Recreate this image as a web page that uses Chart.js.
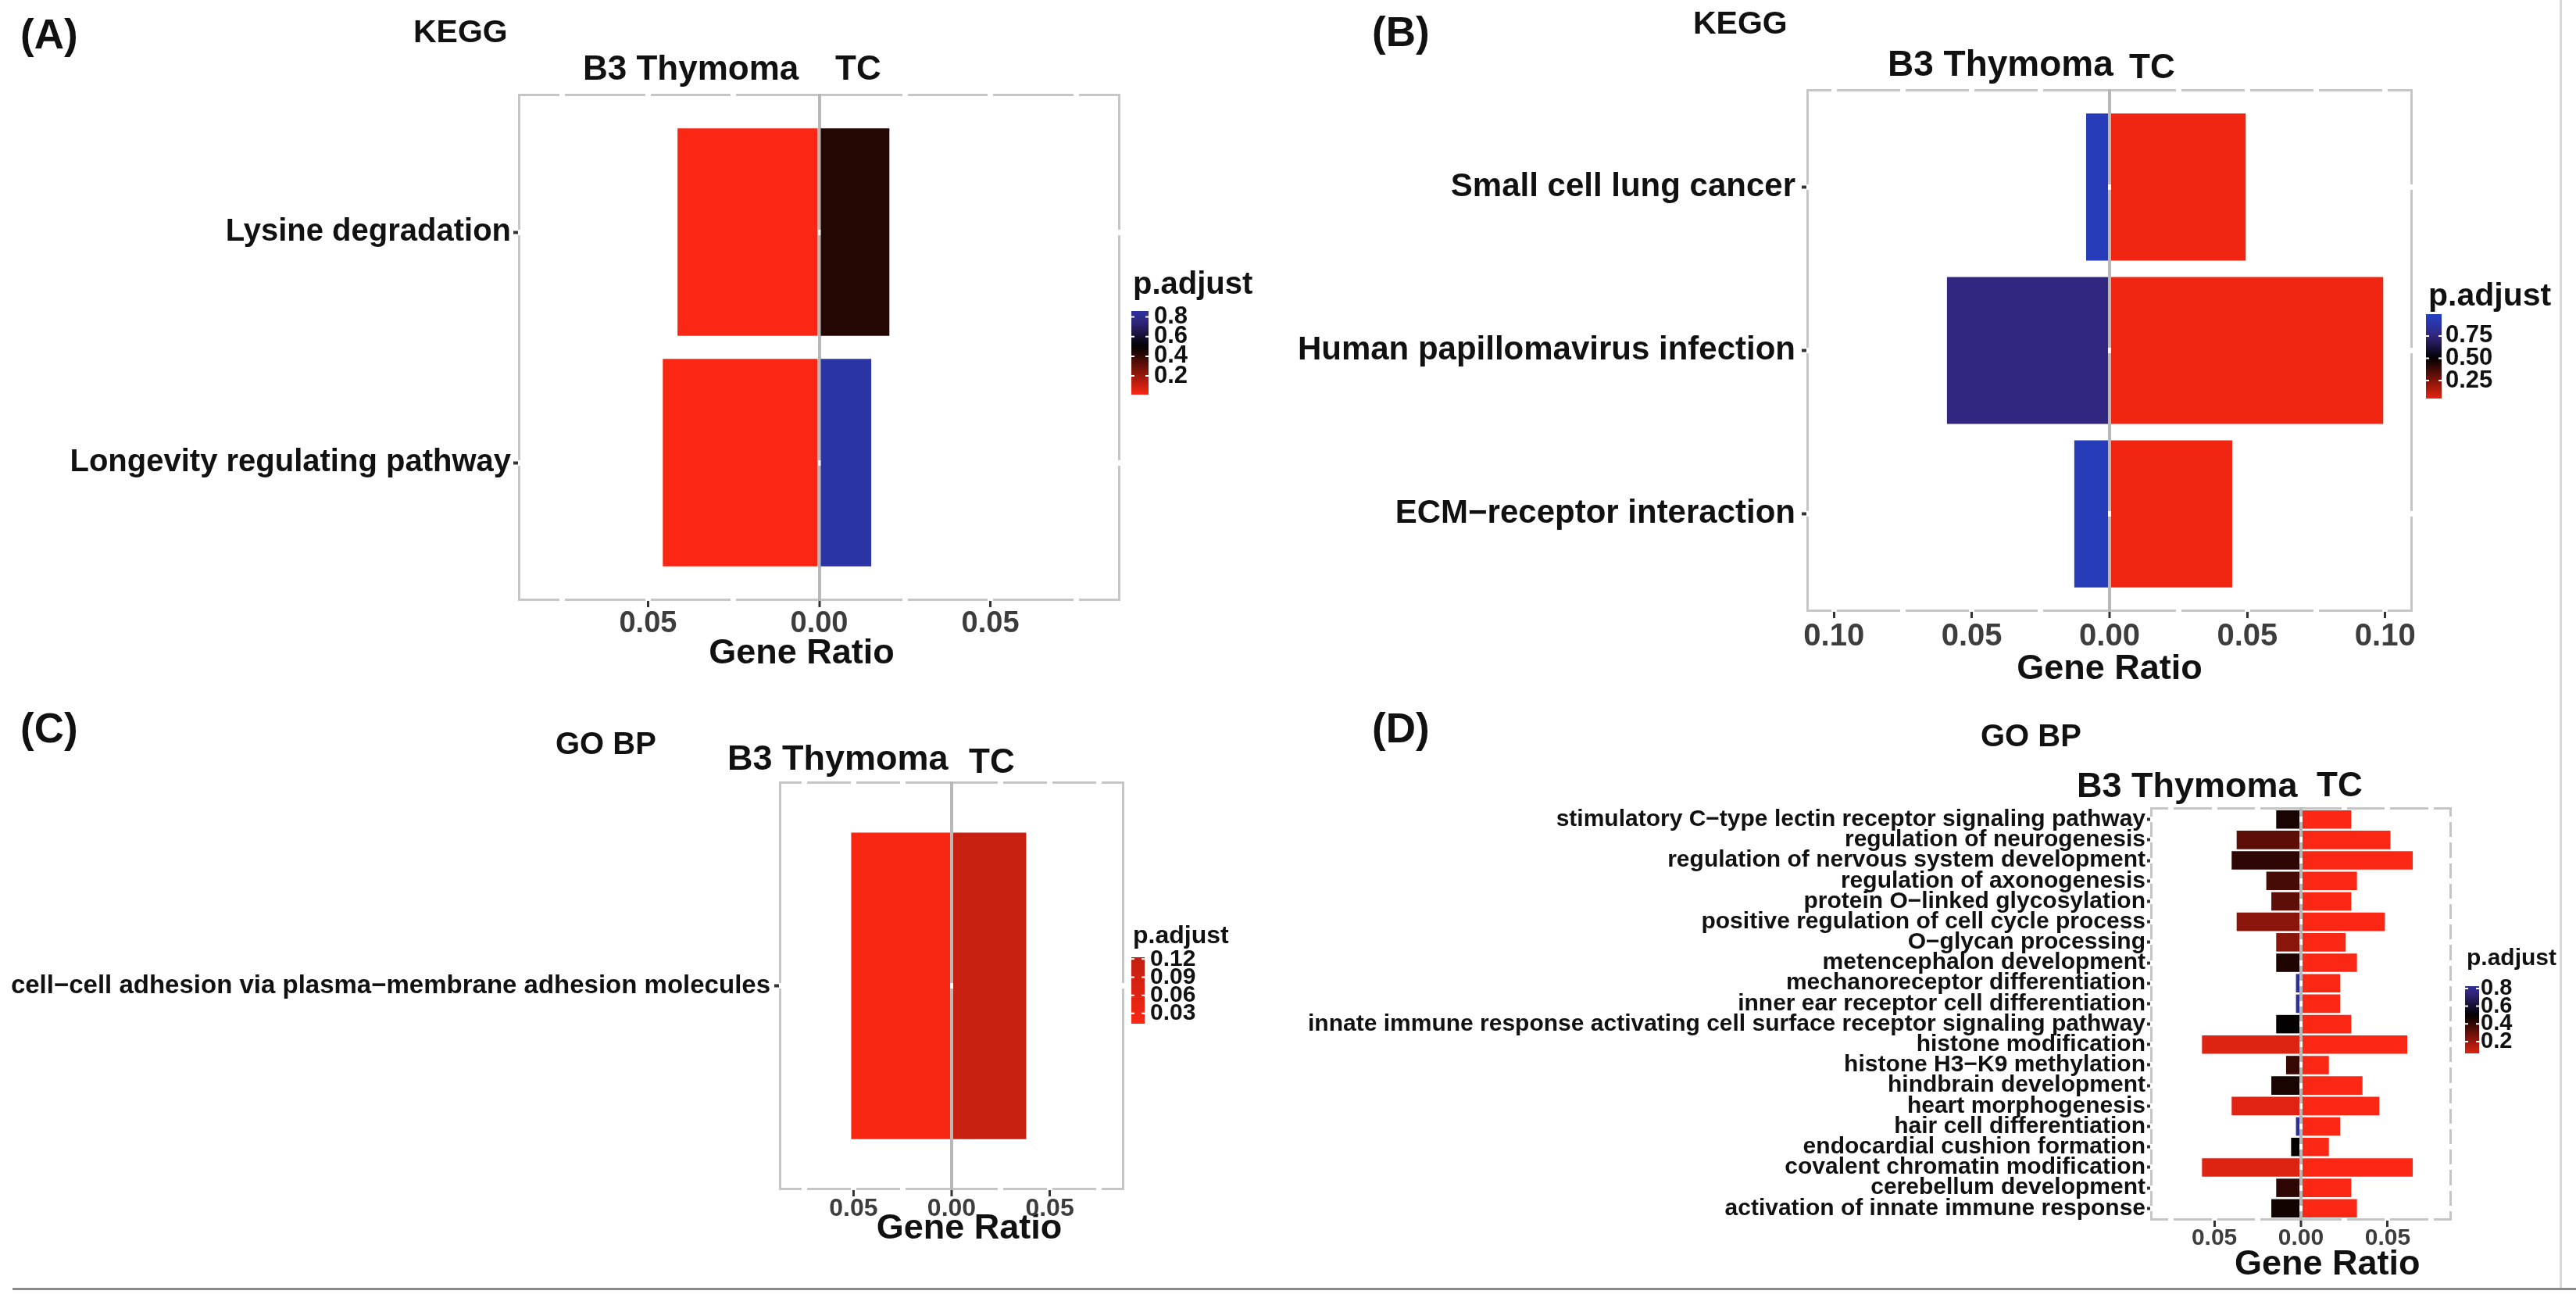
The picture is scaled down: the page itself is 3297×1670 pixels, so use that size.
<!DOCTYPE html>
<html>
<head>
<meta charset="utf-8">
<script src="https://cdn.jsdelivr.net/npm/chart.js@4.4.1/dist/chart.umd.min.js"></script>
<style>
  html, body { margin: 0; padding: 0; background: #fff; }
  body { width: 3297px; height: 1670px; position: relative; overflow: hidden;
         font-family: "Liberation Sans", Arial, sans-serif; }
  canvas { position: absolute; }
  .txt { position: absolute; font-weight: bold; line-height: 1; white-space: nowrap; color: #111; }
  .rule { position: absolute; }
</style>
</head>
<body>
<script>
// ---- values (gene ratio, p.adjust) ----
const keggATerms = ['Lysine degradation', 'Longevity regulating pathway'];
const keggAB3 = [0.0414, 0.0457];
const keggATC = [0.0205, 0.0152];
const keggAB3P = [0.01, 0.01];
const keggATCP = [0.43, 0.88];

const keggBTerms = ['Small cell lung cancer', 'Human papillomavirus infection', 'ECM\u2212receptor interaction'];
const keggBB3 = [0.0085, 0.059, 0.0128];
const keggBTC = [0.0494, 0.0993, 0.0445];
const keggBB3P = [0.95, 0.76, 0.95];
const keggBTCP = [0.03, 0.03, 0.03];

const goCTerms = ['cell\u2212cell adhesion via plasma\u2212membrane adhesion molecules'];
const goCB3 = [0.0512];
const goCTC = [0.038];
const goCB3P = [0.013];
const goCTCP = [0.11];

const goDTerms = [
  'stimulatory C\u2212type lectin receptor signaling pathway',
  'regulation of neurogenesis',
  'regulation of nervous system development',
  'regulation of axonogenesis',
  'protein O\u2212linked glycosylation',
  'positive regulation of cell cycle process',
  'O\u2212glycan processing',
  'metencephalon development',
  'mechanoreceptor differentiation',
  'inner ear receptor cell differentiation',
  'innate immune response activating cell surface receptor signaling pathway',
  'histone modification',
  'histone H3\u2212K9 methylation',
  'hindbrain development',
  'heart morphogenesis',
  'hair cell differentiation',
  'endocardial cushion formation',
  'covalent chromatin modification',
  'cerebellum development',
  'activation of innate immune response'
];
const goDB3 = [0.0143, 0.0371, 0.0400, 0.0200, 0.0171, 0.0371, 0.0143, 0.0143, 0.0029, 0.0029,
               0.0143, 0.0571, 0.0086, 0.0171, 0.0400, 0.0029, 0.0057, 0.0571, 0.0143, 0.0171];
const goDTC = [0.0290, 0.0516, 0.0645, 0.0323, 0.0290, 0.0484, 0.0258, 0.0323, 0.0226, 0.0226,
               0.0290, 0.0613, 0.0161, 0.0355, 0.0452, 0.0226, 0.0161, 0.0645, 0.0290, 0.0323];
const goDB3P = [0.45, 0.32, 0.41, 0.36, 0.32, 0.23, 0.23, 0.44, 0.83, 0.83,
                0.49, 0.067, 0.39, 0.45, 0.06, 0.83, 0.49, 0.067, 0.41, 0.465];
const goDTCP = [0.01, 0.01, 0.01, 0.01, 0.01, 0.01, 0.01, 0.01, 0.01, 0.01,
                0.01, 0.01, 0.01, 0.01, 0.01, 0.01, 0.01, 0.01, 0.01, 0.01];

// ---- colour scale: red (0) -> black (0.5) -> blue (1) ----
const colorStops = [
    [0, [255, 40, 20]],
    [0.5, [0, 0, 0]],
    [0.75, [50, 38, 125]],
    [1, [35, 65, 200]]
];

function pColor(p) {
    let i = 1;
    while (i < colorStops.length - 1 && p > colorStops[i][0]) i++;
    const [p0, a] = colorStops[i - 1];
    const [p1, b] = colorStops[i];
    const t = Math.min(1, Math.max(0, (p - p0) / (p1 - p0)));
    const c = a.map((v, k) => Math.round(v + (b[k] - v) * t));
    return `rgb(${c[0]}, ${c[1]}, ${c[2]})`;
}

const FONT = '"Liberation Sans", Arial, sans-serif';
Chart.defaults.font.family = FONT;

// ggplot keeps 0.6 of a category free above and below the bars
const ggExpand = {
    id: 'ggExpand',
    afterLayout(chart) {
        const s = chart.scales.y;
        const n = chart.data.labels.length;
        s._startValue = -0.6;
        s._valueRange = n - 1 + 1.2;
    }
};

// panel border + p.adjust colour bar
const panelDecor = {
    id: 'panelDecor',
    beforeDraw(chart) {
        const { ctx, chartArea: a } = chart;
        ctx.save();
        ctx.strokeStyle = '#c6c6c6';
        ctx.lineWidth = 3;
        ctx.strokeRect(a.left + 1.5, a.top + 1.5, a.right - a.left - 3, a.bottom - a.top - 3);
        ctx.restore();
    },
    afterDraw(chart, args, opts) {
        const ctx = chart.ctx;
        const L = opts.legend;
        const ox = opts.originX, oy = opts.originY;
        const x = L.barX - ox, y = L.barY - oy;
        const span = L.lims[1] - L.lims[0];
        ctx.save();
        const grad = ctx.createLinearGradient(0, y + L.barH, 0, y);
        for (let i = 0; i <= 20; i++) {
            grad.addColorStop(i / 20, pColor(L.lims[0] + span * i / 20));
        }
        ctx.fillStyle = grad;
        ctx.fillRect(x, y, L.barW, L.barH);
        const py = v => y + L.barH - (v - L.lims[0]) / span * L.barH;
        ctx.strokeStyle = '#ffffff';
        ctx.lineWidth = 2;
        L.ticks.forEach(v => {
            const yy = py(v);
            ctx.beginPath();
            ctx.moveTo(x, yy); ctx.lineTo(x + 4, yy);
            ctx.moveTo(x + L.barW - 4, yy); ctx.lineTo(x + L.barW, yy);
            ctx.stroke();
        });
        ctx.fillStyle = '#111';
        ctx.textBaseline = 'middle';
        ctx.textAlign = 'left';
        ctx.font = `bold ${L.labelSize}px ${FONT}`;
        L.ticks.forEach(v => ctx.fillText(v.toFixed(L.digits), L.labelX - ox, py(v)));
        ctx.font = `bold ${L.titleSize}px ${FONT}`;
        ctx.fillText('p.adjust', L.titleX - ox, L.titleY - oy);
        ctx.restore();
    }
};

function isMajor(v) {
    return Math.abs(Math.round(v / 0.025)) % 2 === 0;
}

// the axis title sits a little off the panel centre in the figure; en-spaces nudge it
function axisTitle(shift) {
    const pad = '\u2002'.repeat(Math.abs(shift));
    return shift > 0 ? pad + 'Gene Ratio' : 'Gene Ratio' + pad;
}

function makePanel(spec) {
    const canvas = document.createElement('canvas');
    canvas.width = spec.width;
    canvas.height = spec.height;
    canvas.style.left = spec.left + 'px';
    canvas.style.top = spec.top + 'px';
    document.body.appendChild(canvas);

    const n = spec.terms.length;
    const xTicks = [];
    for (let k = -10; k <= 10; k++) {
        const v = k * 0.025;
        if (Math.abs(v) < spec.lim) xTicks.push(v);
    }
    const isZero = c => c.tick && Math.abs(c.tick.value) < 1e-9;

    new Chart(canvas, {
        type: 'bar',
        data: {
            labels: spec.terms,
            datasets: [
                { label: 'B3 Thymoma', data: spec.b3.map(v => -v), backgroundColor: spec.b3p.map(pColor) },
                { label: 'TC', data: spec.tc, backgroundColor: spec.tcp.map(pColor) }
            ]
        },
        options: {
            indexAxis: 'y',
            responsive: false,
            animation: false,
            devicePixelRatio: 1,
            layout: { padding: { left: 0, top: spec.padTop, right: spec.padRight, bottom: 0 } },
            datasets: {
                bar: {
                    barPercentage: n > 1 ? 0.9 : 0.9 / 1.2,
                    categoryPercentage: 1,
                    borderWidth: 0
                }
            },
            scales: {
                x: {
                    type: 'linear',
                    min: -spec.lim,
                    max: spec.lim,
                    stacked: true,
                    afterBuildTicks: s => { s.ticks = xTicks.map(v => ({ value: v })); },
                    afterFit: s => { s.height = spec.xHeight; },
                    ticks: {
                        autoSkip: false,
                        maxRotation: 0,
                        padding: spec.xPad,
                        color: '#3d3d3d',
                        font: { size: spec.xFont, weight: 'bold', lineHeight: 1 },
                        callback: v => isMajor(v) ? Math.abs(v).toFixed(2) : ''
                    },
                    grid: {
                        color: c => isZero(c) ? '#b8b8b8' : '#ffffff',
                        lineWidth: c => isZero(c) ? 4 : 7,
                        drawTicks: true,
                        tickLength: 8,
                        tickWidth: 3,
                        tickColor: c => (c.tick && isMajor(c.tick.value)) ? '#333333' : 'rgba(0,0,0,0)'
                    },
                    border: { display: false },
                    title: {
                        display: true,
                        text: axisTitle(spec.titleShift),
                        color: '#111',
                        font: { size: 45, weight: 'bold', lineHeight: 1.2 },
                        padding: 0
                    }
                },
                y: {
                    type: 'category',
                    offset: true,
                    stacked: true,
                    afterFit: s => { s.width = spec.yWidth; },
                    ticks: {
                        autoSkip: false,
                        padding: spec.yPad,
                        color: '#111',
                        font: { size: spec.yFont, weight: 'bold' }
                    },
                    grid: {
                        offset: false,
                        color: '#ffffff',
                        lineWidth: 7,
                        drawTicks: true,
                        tickLength: spec.yTick,
                        tickWidth: 4,
                        tickColor: '#333333'
                    },
                    border: { display: false }
                }
            },
            plugins: {
                legend: { display: false },
                tooltip: { enabled: false },
                panelDecor: { legend: spec.legend, originX: spec.left, originY: spec.top }
            }
        },
        plugins: [ggExpand, panelDecor]
    });
}

makePanel({
    terms: keggATerms, b3: keggAB3, tc: keggATC, b3p: keggAB3P, tcp: keggATCP,
    left: 0, top: 0, width: 1650, height: 864, padTop: 120, padRight: 216,
    yWidth: 663, xHeight: 95, lim: 0.088, yFont: 40, yPad: 3, yTick: 6, xFont: 38, xPad: 3, titleShift: -2,
    legend: { titleX: 1450, titleY: 365, titleSize: 40, barX: 1448, barY: 398, barW: 22, barH: 107,
              labelX: 1477, labelSize: 31, lims: [0.01, 0.86], ticks: [0.2, 0.4, 0.6, 0.8], digits: 1 }
});

makePanel({
    terms: keggBTerms, b3: keggBB3, tc: keggBTC, b3p: keggBB3P, tcp: keggBTCP,
    left: 1650, top: 0, width: 1647, height: 884, padTop: 114, padRight: 209,
    yWidth: 662, xHeight: 101, lim: 0.11, yFont: 42, yPad: 8, yTick: 6, xFont: 40, xPad: 4, titleShift: 0,
    legend: { titleX: 3108, titleY: 380, titleSize: 41, barX: 3105, barY: 402, barW: 20, barH: 108,
              labelX: 3130, labelSize: 31, lims: [0.048, 0.995], ticks: [0.25, 0.5, 0.75], digits: 2 }
});

makePanel({
    terms: goCTerms, b3: goCB3, tc: goCTC, b3p: goCB3P, tcp: goCTCP,
    left: 0, top: 880, width: 1650, height: 720, padTop: 120, padRight: 211,
    yWidth: 997, xHeight: 77, lim: 0.088, yFont: 33, yPad: 5, yTick: 6, xFont: 32, xPad: 0, titleShift: 2,
    legend: { titleX: 1450, titleY: 1198, titleSize: 32, barX: 1448, barY: 1225, barW: 17, barH: 85,
              labelX: 1472, labelSize: 30, lims: [0.013, 0.123], ticks: [0.03, 0.06, 0.09, 0.12], digits: 2 }
});

makePanel({
    terms: goDTerms, b3: goDB3, tc: goDTC, b3p: goDB3P, tcp: goDTCP,
    left: 1650, top: 880, width: 1647, height: 766, padTop: 153, padRight: 159,
    yWidth: 1102, xHeight: 84, lim: 0.087, yFont: 30, yPad: 2, yTick: 4, xFont: 30, xPad: 0, titleShift: 3,
    legend: { titleX: 3157, titleY: 1227, titleSize: 30, barX: 3155, barY: 1262, barW: 18, barH: 86,
              labelX: 3175, labelSize: 29, lims: [0.067, 0.826], ticks: [0.2, 0.4, 0.6, 0.8], digits: 1 }
});

// ---- panel letters and headers ----
const headers = [
    ['(A)', 26, 43, 53], ['KEGG', 529, 40, 41], ['B3 Thymoma', 746, 87, 44], ['TC', 1069, 87, 44],
    ['(B)', 1756, 40, 53], ['KEGG', 2167, 29, 41], ['B3 Thymoma', 2416, 81, 46], ['TC', 2725, 85, 44],
    ['(C)', 26, 931, 53], ['GO BP', 711, 951, 40], ['B3 Thymoma', 931, 969, 45], ['TC', 1240, 974, 44],
    ['(D)', 1756, 931, 53], ['GO BP', 2535, 941, 40], ['B3 Thymoma', 2658, 1004, 45], ['TC', 2965, 1004, 44]
];
headers.forEach(([text, x, yc, size]) => {
    const d = document.createElement('div');
    d.className = 'txt';
    d.textContent = text;
    d.style.left = x + 'px';
    d.style.top = (yc - size / 2) + 'px';
    d.style.fontSize = size + 'px';
    document.body.appendChild(d);
});

// frame rules of the composite figure
[[16, 1648, 3281, 3, '#8a8a8a'], [3276, 0, 3, 1648, '#d8d8d8']].forEach(([x, y, w, h, c]) => {
    const r = document.createElement('div');
    r.className = 'rule';
    r.style.left = x + 'px'; r.style.top = y + 'px';
    r.style.width = w + 'px'; r.style.height = h + 'px';
    r.style.background = c;
    document.body.appendChild(r);
});
</script>
</body>
</html>
